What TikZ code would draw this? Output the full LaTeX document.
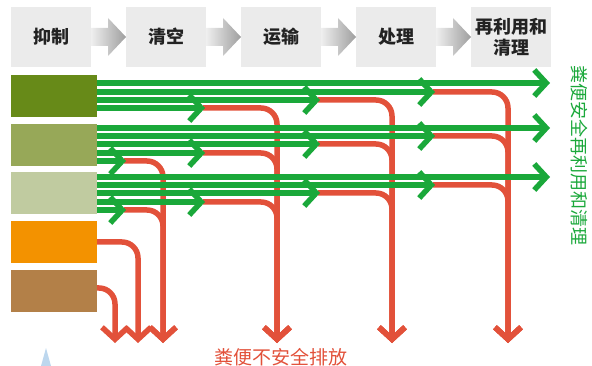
\documentclass[tikz,border=0pt]{standalone}
\usepackage{fontspec}
\usetikzlibrary{arrows.meta}
\newfontfamily\cjk{Noto Sans CJK SC}
\definecolor{hdr}{HTML}{EBEBEB}
\definecolor{cA}{HTML}{678A18}
\definecolor{cB}{HTML}{97A858}
\definecolor{cC}{HTML}{C0CBA0}
\definecolor{cD}{HTML}{F39200}
\definecolor{cE}{HTML}{B38048}
\definecolor{gr}{HTML}{1AA83A}
\definecolor{rd}{HTML}{E2513A}
\definecolor{lb}{HTML}{BDD7EE}
\definecolor{txt}{HTML}{222222}
\tikzset{
  hbox/.style={fill=hdr, minimum width=80pt, minimum height=60pt, inner sep=0pt,
    align=center, text=txt, font=\cjk\bfseries\fontsize{18}{21}\selectfont},
  sbox/.style={minimum width=86pt, minimum height=42pt, inner sep=0pt},
  chev/.style={-{Straight Barb[length=12pt,width=26pt]}},
  gline/.style={draw=gr, line width=5.5pt, chev},
  rline/.style={draw=rd, line width=5.5pt, rounded corners=16pt, chev}
}
\begin{document}
\begin{tikzpicture}[x=1pt,y=-1pt]
\useasboundingbox (0,0) rectangle (592,366);
% header boxes
\node[hbox] (h1) at (51,37) {抑制};
\node[hbox] (h2) at (166,37) {清空};
\node[hbox] (h3) at (281,37) {运输};
\node[hbox] (h4) at (396,37) {处理};
\node[hbox] (h5) at (511,37) {再利用和\\清理};
% gray arrows
\foreach \x in {91,206,321,436}
  \shade[left color=hdr!80!white, right color=black!38]
    (\x,28) -- (\x+17,28) -- (\x+17,18) -- (\x+35,37) -- (\x+17,56) -- (\x+17,46) -- (\x,46) -- cycle;
% source boxes
\node[sbox, fill=cA] (s1) at (54,96) {};
\node[sbox, fill=cB] (s2) at (54,145) {};
\node[sbox, fill=cC] (s3) at (54,193) {};
\node[sbox, fill=cD] (s4) at (54,242) {};
\node[sbox, fill=cE] (s5) at (54,291) {};
% red flows
\foreach \y/\sx/\dx in {92/433/508, 100/318/392, 108/203/277,
  136/433/508, 144/318/392, 153/203/277, 161/124/163,
  185/433/508, 193/318/392, 202/203/277, 210/124/163,
  242/97/138, 288/97/115}
  \draw[rline] (\sx,\y) -- (\dx,\y) -- (\dx,343);
% green flows
\foreach \y/\tx in {83/550, 92/435, 100/320, 108/205,
  128/550, 136/435, 144/320, 153/205, 161/126,
  177/550, 185/435, 193/320, 202/205, 210/126}
  \draw[gline] (97,\y) -- (\tx,\y);
% labels
\node[text=gr, rotate=-90, font=\cjk\fontsize{18}{20}\selectfont] (lg) at (579,156) {粪便安全再利用和清理};
\node[text=rd, font=\cjk\fontsize{19}{21}\selectfont] (lr) at (281,357) {粪便不安全排放};
% partial triangle
\fill[lb] (46,348) -- (51,366) -- (41,366) -- cycle;
\end{tikzpicture}
\end{document}
